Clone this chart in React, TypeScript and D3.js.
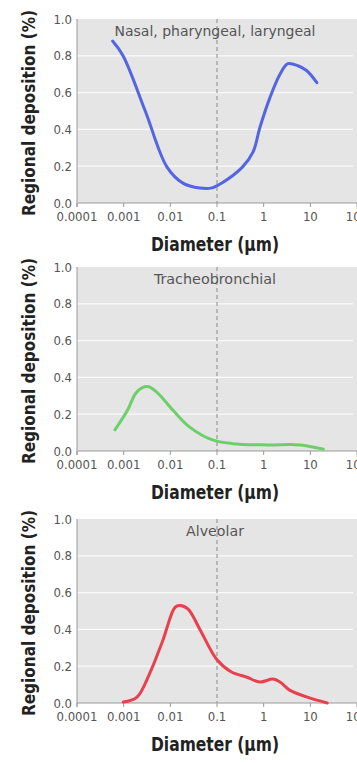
import React from 'react';
import * as d3 from 'd3';

// axis values
const xTicks = [0.0001, 0.001, 0.01, 0.1, 1, 10, 100];
const xTickLabels = ['0.0001', '0.001', '0.01', '0.1', '1', '10', '100'];
const yTicks = [0, 0.2, 0.4, 0.6, 0.8, 1.0];
const yTickLabels = ['0.0', '0.2', '0.4', '0.6', '0.8', '1.0'];
const gridValues = [0.2, 0.4, 0.6, 0.8];
const cutoffDiameter = 0.1;

const panelTitles = ['Nasal, pharyngeal, laryngeal', 'Tracheobronchial', 'Alveolar'];
const panelColors = ['#5465e2', '#6ccf6a', '#e8404f'];

// diameter (µm) / fraction deposited
const nasalDiam = [0.00058, 0.00097, 0.0029, 0.0085, 0.0186, 0.043, 0.078, 0.13, 0.35, 0.59, 0.83, 1.35, 2.24, 3.3, 5.4, 8.3, 13.8];
const nasalDep = [0.88, 0.80, 0.50, 0.195, 0.108, 0.081, 0.082, 0.11, 0.195, 0.276, 0.41, 0.57, 0.70, 0.757, 0.746, 0.72, 0.654];

const tracheoDiam = [0.00065, 0.0012, 0.0019, 0.0032, 0.0051, 0.0115, 0.026, 0.08, 0.22, 1.2, 6, 19];
const tracheoDep = [0.115, 0.22, 0.32, 0.35, 0.32, 0.22, 0.13, 0.06, 0.04, 0.033, 0.033, 0.01];

const alveolarDiam = [0.00098, 0.0019, 0.0036, 0.0069, 0.0126, 0.0162, 0.024, 0.043, 0.1, 0.2, 0.44, 0.83, 1.58, 2.24, 3.6, 8.3, 23];
const alveolarDep = [0.005, 0.03, 0.16, 0.34, 0.52, 0.53, 0.51, 0.40, 0.235, 0.17, 0.14, 0.114, 0.13, 0.114, 0.07, 0.033, 0.0];

const series = [
  { diam: nasalDiam, dep: nasalDep },
  { diam: tracheoDiam, dep: tracheoDep },
  { diam: alveolarDiam, dep: alveolarDep },
];

const W = 357;
const H = 763;
const left = 77;
const plotH = 184;
const zeroYs = [203, 451, 703];
const titleLengths = [201, 122, 58];
const font = "'DejaVu Sans Condensed', 'Liberation Sans Narrow', Arial, sans-serif";

const x = d3.scaleLog().domain([0.0001, 100]).range([left, W]);

function Panel({ i }: { i: number }) {
  const y0 = zeroYs[i];
  const y = d3.scaleLinear().domain([0, 1]).range([y0, y0 - plotH]);
  const s = series[i];
  const pts = s.diam.map((d, k) => [d, s.dep[k]] as [number, number]);
  const line = d3.line<[number, number]>()
    .x(d => x(d[0]))
    .y(d => y(d[1]))
    .curve(d3.curveCatmullRom.alpha(0.5));
  return (
    <g>
      <rect x={left} y={y(1)} width={W - left} height={plotH} fill="#e5e5e5" />
      {gridValues.map(v => (
        <line key={v} x1={left} x2={W - 4} y1={y(v)} y2={y(v)} stroke="#fafafa" strokeWidth={1.2} />
      ))}
      <line x1={x(cutoffDiameter)} x2={x(cutoffDiameter)} y1={y(1)} y2={y(0)} stroke="#8a8a8a" strokeWidth={1} strokeDasharray="4,3" />
      {/* axes */}
      <line x1={left} x2={W} y1={y0} y2={y0} stroke="#9a9a9a" strokeWidth={1} />
      <line x1={left} x2={left} y1={y(1)} y2={y0 + 4} stroke="#9a9a9a" strokeWidth={1} />
      {xTicks.map(t => (
        <line key={t} x1={x(t)} x2={x(t)} y1={y0} y2={y0 + 4} stroke="#9a9a9a" strokeWidth={1} />
      ))}
      {xTicks.map((t, k) => (
        <text key={t} x={x(t)} y={y0 + 18} textAnchor="middle" fontSize={13} fill="#555" fontFamily={font}>
          {xTickLabels[k]}
        </text>
      ))}
      {yTicks.map((t, k) => (
        <text key={t} x={left - 5} y={y(t) + 4.5} textAnchor="end" fontSize={13} fill="#555" fontFamily={font}>
          {yTickLabels[k]}
        </text>
      ))}
      <text x={215} y={y(1) + 17} textAnchor="middle" fontSize={14} fill="#555" fontFamily={font}
        textLength={titleLengths[i]} lengthAdjust="spacingAndGlyphs">
        {panelTitles[i]}
      </text>
      <path d={line(pts) || ''} fill="none" stroke={panelColors[i]} strokeWidth={3} strokeLinejoin="round" strokeLinecap="round" />
      <text x={215} y={y0 + 48} textAnchor="middle" fontSize={20} fontWeight="bold" fill="#222" fontFamily={font}
        textLength={128} lengthAdjust="spacingAndGlyphs">
        Diameter (µm)
      </text>
      <text transform={`translate(35,${y0 - plotH / 2 + 2}) rotate(-90)`} textAnchor="middle" fontSize={18} fontWeight="bold" fill="#222" fontFamily={font}
        textLength={206} lengthAdjust="spacingAndGlyphs">
        Regional deposition (%)
      </text>
    </g>
  );
}

export default function App() {
  return (
    <svg width={W} height={H} style={{ position: 'absolute', left: 0, top: 0, background: '#fff' }}>
      {[0, 1, 2].map(i => <Panel key={i} i={i} />)}
    </svg>
  );
}
